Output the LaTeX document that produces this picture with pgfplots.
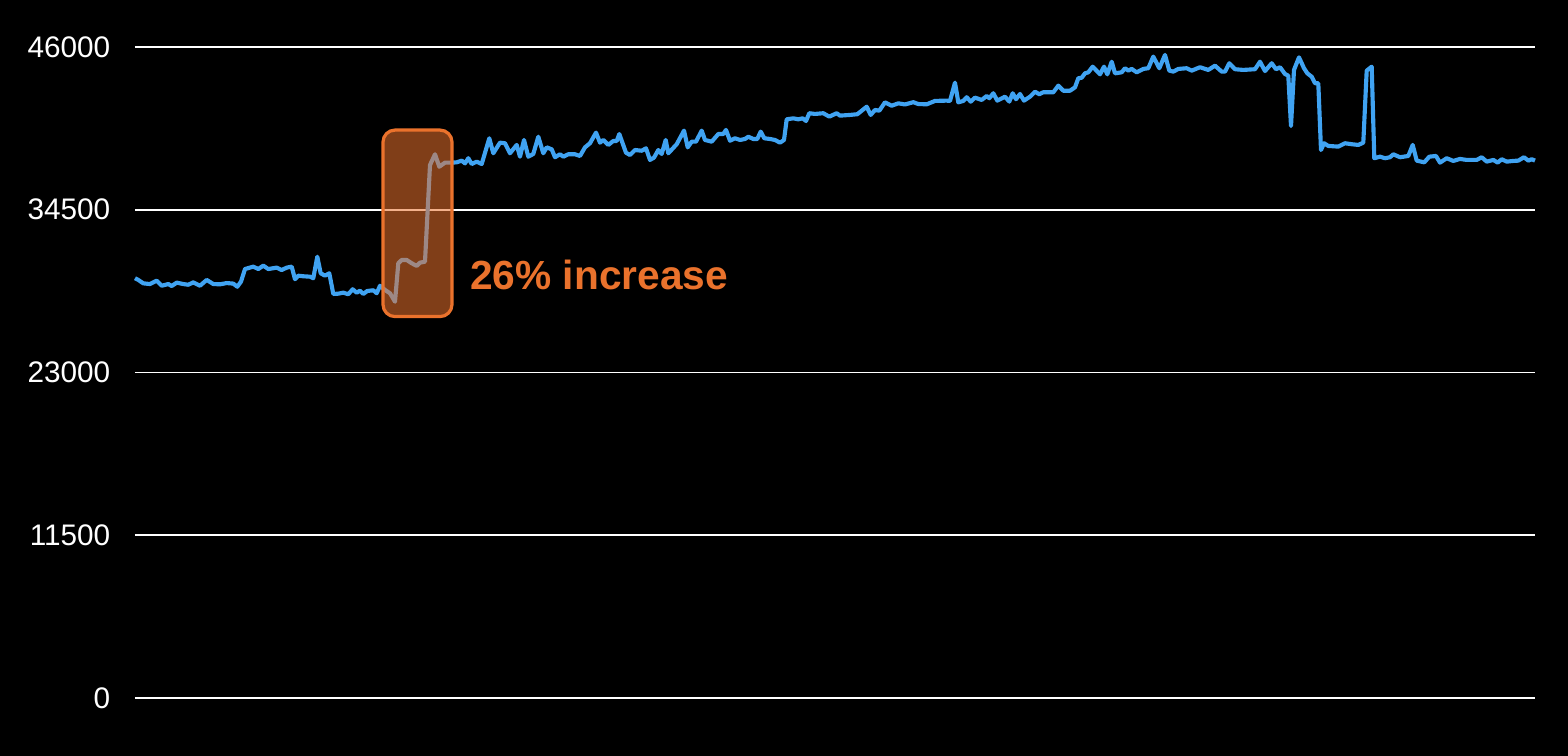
\documentclass[border=0pt]{standalone}
\usepackage{pgfplots}
\pgfplotsset{compat=1.18}
\usepackage{fontspec}
\setmainfont{Liberation Sans}

\definecolor{lineblue}{RGB}{64,163,242}
\definecolor{hiorange}{RGB}{234,114,44}

\begin{document}
\begin{tikzpicture}
% black page, 1568x756 px at 0.75pt per px
\fill[black] (-101.25pt,-43.5pt) rectangle (1074.75pt,523.5pt);
\useasboundingbox (-101.25pt,-43.5pt) rectangle (1074.75pt,523.5pt);
\begin{axis}[
    scale only axis,
    width=1050pt, height=488.25pt,
    xmin=135, xmax=1535,
    ymin=0, ymax=46000,
    axis line style={draw=none},
    xtick=\empty,
    ytick={0,11500,23000,34500,46000},
    yticklabels={0,11500,23000,34500,46000},
    scaled y ticks=false,
    major tick length=0pt,
    ymajorgrids,
    grid style={white, line width=1.3pt},
    yticklabel style={font=\fontsize{22.3}{22.3}\selectfont, text=white, xshift=-15pt},
    clip=false,
  ]
  \addplot[lineblue, line width=3.1pt, line join=round] coordinates {
    (135,29660) (138.3,29540) (143.3,29300) (150,29250) (156.7,29490) (161.7,29130)
    (168.3,29250) (171.7,29110) (176.7,29350) (183.3,29250) (188.3,29200) (193.3,29370)
    (200,29130) (206.7,29540) (213.3,29250) (220,29230) (226.7,29320) (233.3,29280)
    (237.3,29060) (241,29420) (245,30310) (253.3,30480) (258.3,30310) (263.3,30550)
    (268.3,30310) (276.7,30410) (281.7,30240) (286.7,30410) (291.7,30480) (295,29590)
    (298.3,29840) (303.3,29800) (310,29770) (313.3,29660) (317.3,31180) (320.7,30010)
    (325,29840) (329.3,30010) (333.3,28550) (338.3,28570) (343.3,28640) (348.3,28530)
    (352.7,28880) (356.7,28640) (360,28780) (363.3,28550) (367.3,28760) (373.3,28810)
    (376.7,28600) (380,29130) (385,28830) (390,28600) (395,28000) (398.3,30720)
    (401.7,30950) (406.7,30950) (411.7,30720) (416.7,30530) (420,30760) (425,30830)
    (430,37660) (435,38420) (439.3,37540) (445,37830) (451.7,37830) (456.7,37850)
    (461.7,37970) (465,37780) (468.3,38140) (471.7,37730) (476.7,37900) (481.7,37730)
    (489.3,39550) (493.3,38490) (500,39240) (505,39200) (510,38490) (516.7,39080)
    (520,38250) (524,39430) (528.3,38250) (533.3,38440) (538.3,39660) (543.3,38490)
    (546.7,38910) (551.7,38770) (555,38210) (560,38420) (563.3,38250) (568.3,38420)
    (575,38420) (580,38300) (585,38910) (590,39200) (596,39950) (600,39240)
    (603.3,39430) (608.3,39080) (613.3,39360) (616.7,39360) (619.3,39850) (626,38530)
    (630,38370) (635,38720) (641.7,38670) (646,38840) (650,38020) (654,38180)
    (658.3,38720) (661.7,38440) (665.7,39430) (668.3,38490) (676.7,39130) (684,40090)
    (687.7,38910) (691.7,39310) (696,39310) (701.7,40090) (705,39430) (711.7,39310)
    (718.3,39850) (723.3,39850) (726,40140) (730,39380) (735,39550) (740,39430)
    (745,39500) (748.3,39660) (753.3,39500) (757.3,39500) (760.7,40020) (764.3,39550)
    (770,39500) (775,39430) (780,39240) (784,39430) (786.7,40890) (793.3,40960)
    (798.3,40890) (802.7,40960) (806,40770) (809.3,41320) (815,41270) (823.3,41320)
    (829.3,41080) (836.7,41320) (840,41150) (850,41200) (857.3,41250) (866.7,41780)
    (870.7,41200) (875,41550) (879.3,41500) (885,42090) (891.7,41850) (898.3,42020)
    (905,41940) (913.3,42100) (918.3,41970) (926.7,41950) (935,42190) (946.7,42210)
    (950,42190) (955,43480) (958.3,42090) (963.3,42190) (966.7,42450) (970.7,42140)
    (975,42420) (981.7,42260) (986.7,42540) (989.3,42380) (993.3,42730) (997.3,42210)
    (1005,42490) (1009.3,42140) (1012.7,42730) (1016,42310) (1020,42680) (1024,42210)
    (1030,42490) (1035,42840) (1039.3,42660) (1043.3,42800) (1053.3,42800) (1058.3,43270)
    (1063.3,42910) (1070,42910) (1075,43150) (1078.3,43790) (1081.7,43830) (1085,44140)
    (1088.3,44210) (1092.7,44610) (1100,44070) (1104,44610) (1107.3,44070) (1111.7,44960)
    (1115,44140) (1121.7,44210) (1125,44500) (1128.3,44330) (1131.7,44450) (1136.7,44210)
    (1143.3,44450) (1148.3,44500) (1153.3,45320) (1159.3,44500) (1165,45440) (1169.3,44330)
    (1173.3,44260) (1178.3,44450) (1186.7,44500) (1191.7,44330) (1200,44570) (1208.3,44380)
    (1215,44680) (1221.7,44260) (1225,44260) (1229.3,44850) (1235,44430) (1243.3,44380)
    (1255,44430) (1260,44960) (1265,44300) (1271.7,44850) (1276,44430) (1280,44570)
    (1285,44090) (1288.3,43970) (1291,40420) (1294,44380) (1299,45270) (1304,44500)
    (1307.3,44140) (1311.7,43900) (1315,43440) (1318.3,43440) (1321,38720) (1324,39200)
    (1328.3,39010) (1338.3,38960) (1345,39200) (1351.7,39130) (1358.3,39080) (1363.3,39240)
    (1366.7,44330) (1371.7,44610) (1374.3,38140) (1380,38250) (1385,38140) (1390,38210)
    (1393.3,38420) (1400,38210) (1408.3,38300) (1412.7,39080) (1416.7,37970) (1424.3,37850)
    (1429.3,38250) (1436,38300) (1440,37830) (1446.7,38140) (1453.3,37950) (1460,38090)
    (1466.7,38020) (1476.7,38020) (1481.7,38210) (1486.7,37900) (1493.3,38020) (1497.7,37830)
    (1501.7,38070) (1506.7,37900) (1513.3,37950) (1518.3,37970) (1524,38210) (1528.3,37970)
    (1531.7,38070) (1535,37970)
  };
  % highlight box and annotation
  \draw[hiorange, line width=2.4pt, fill=hiorange, fill opacity=0.55, draw opacity=1,
        rounded corners=9pt]
    (axis cs:383,26950) rectangle (axis cs:452,40130);
  \node[anchor=west, text=hiorange, font=\fontsize{30.5}{30.5}\selectfont\bfseries,
        inner sep=0pt]
    at (axis cs:470,29890) {26\% increase};
\end{axis}
\end{tikzpicture}
\end{document}
